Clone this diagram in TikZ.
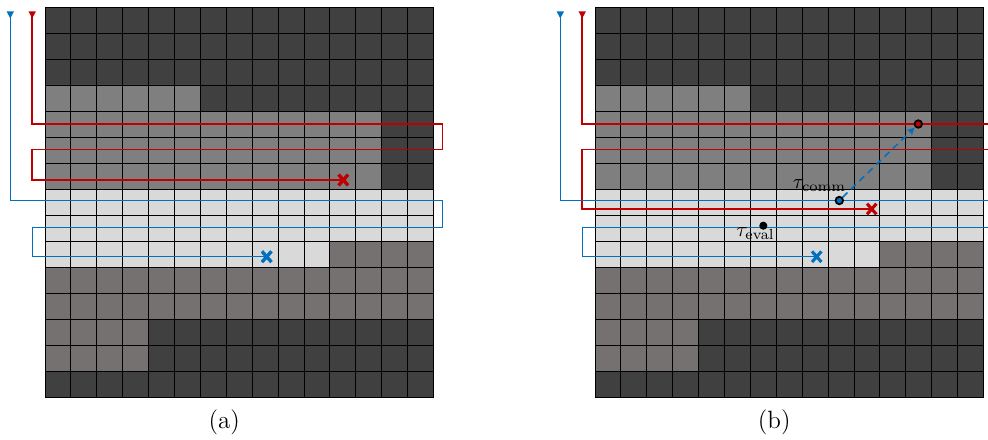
\documentclass[tikz,border=0pt]{standalone}
\usetikzlibrary{arrows.meta,shapes.misc}
\definecolor{cD}{HTML}{404040}
\definecolor{cG}{HTML}{7F7F7F}
\definecolor{cL}{HTML}{D9D9D9}
\definecolor{cW}{HTML}{767171}
\definecolor{cR}{HTML}{C00000}
\definecolor{cB}{HTML}{0070C0}
\tikzset{
 gridln/.style={black, line width=0.45pt},
 trail/.style={line width=0.75pt, line join=miter},
 xmark/.style={cross out, draw=#1, line width=1.5pt, minimum width=3pt, minimum height=3.6pt, inner sep=0pt},
 dotmark/.style={circle, fill=#1, draw=black, line width=0.85pt, minimum size=3.6pt, inner sep=0pt},
 startmark/.style={fill=#1},
 dashlink/.style={cB, line width=0.75pt, dash pattern=on 3.2pt off 2.4pt, -{Stealth[length=3.6pt,width=3.6pt]}, shorten >=0.3pt}
}
\newcommand\gridpanel[1]{%
\begin{scope}[shift={(#1,0)}]
 \fill[cD] (45,7) rectangle (433.5,397);
 \fill[cG] (45,85) rectangle (200.4,111) (45,111) rectangle (381.7,189);
 \fill[cL] (45,189) rectangle (433.5,241) (45,241) rectangle (329.9,267);
 \fill[cW] (329.9,241) rectangle (433.5,267) (45,267) rectangle (433.5,319) (45,319) rectangle (148.6,371);
 \foreach \i in {0,...,15} {
   \draw[gridln] (45+\i*25.9,7) -- (45+\i*25.9,397);
   \draw[gridln] (45,7+\i*26) -- (433.5,7+\i*26);
 }
\end{scope}}
\newcommand\startarrow[2]{\fill[startmark=#2] (#1-3.6,11.5) -- (#1+3.6,11.5) -- (#1,18.5) -- cycle;}
\begin{document}
\begin{tikzpicture}[x=0.48pt,y=-0.48pt]
\useasboundingbox (0,0) rectangle (988,439);
\gridpanel{0}
\gridpanel{550}
% ---------- panel (a)
\coordinate (ra0) at (32.2,12);
\coordinate (ba0) at (10.3,12);
\node[xmark=cR] (rxa) at (343.3,180) {};
\node[xmark=cB] (bxa) at (266.7,256.7) {};
\draw[trail,cR] (ra0) -- (32.2,124) -- (442.7,124) -- (442.7,149.3) -- (32.2,149.3) -- (32.2,180) -- (rxa.center);
\draw[trail,cB] (ba0) -- (10.3,200.5) -- (442.7,200.5) -- (442.7,227.5) -- (32.3,227.5) -- (32.3,256.7) -- (bxa.center);
\startarrow{32.2}{cR}
\startarrow{10.3}{cB}
\node[xmark=cR] at (rxa) {};
\node[xmark=cB] at (bxa) {};
% ---------- panel (b)
\coordinate (rb0) at (582.2,12);
\coordinate (bb0) at (560.3,12);
\coordinate (rxbpos) at (871.7,209);
\coordinate (bxbpos) at (816.7,256.7);
\draw[trail,cR] (rb0) -- (582.2,124) -- (992.7,124) -- (992.7,149.3) -- (582.2,149.3) -- (582.2,209) -- (rxbpos);
\draw[trail,cB] (bb0) -- (560.3,200.5) -- (992.7,200.5) -- (992.7,227.5) -- (582.3,227.5) -- (582.3,256.7) -- (bxbpos);
\startarrow{582.2}{cR}
\startarrow{560.3}{cB}
\node[xmark=cR] (rxb) at (rxbpos) {};
\node[xmark=cB] (bxb) at (bxbpos) {};
\node[dotmark=cR] (rc) at (918.3,124) {};
\node[dotmark=cB] (bc) at (839.3,200.5) {};
\draw[dashlink] (bc) -- (rc);
\node[circle, fill=black, minimum size=3.9pt, inner sep=0pt] (ev) at (763.3,225.7) {};
\node[anchor=base, inner sep=0pt] (tcomm) at (819.5,188.5) {$\tau_{\mathrm{comm}}$};
\node[anchor=base, inner sep=0pt] (teval) at (755.5,236.5) {$\tau_{\mathrm{eval}}$};
% ---------- captions
\node[anchor=base, font=\large, inner sep=0pt] (capa) at (224.2,428) {(a)};
\node[anchor=base, font=\large, inner sep=0pt] (capb) at (774.2,428) {(b)};
\end{tikzpicture}
\end{document}
